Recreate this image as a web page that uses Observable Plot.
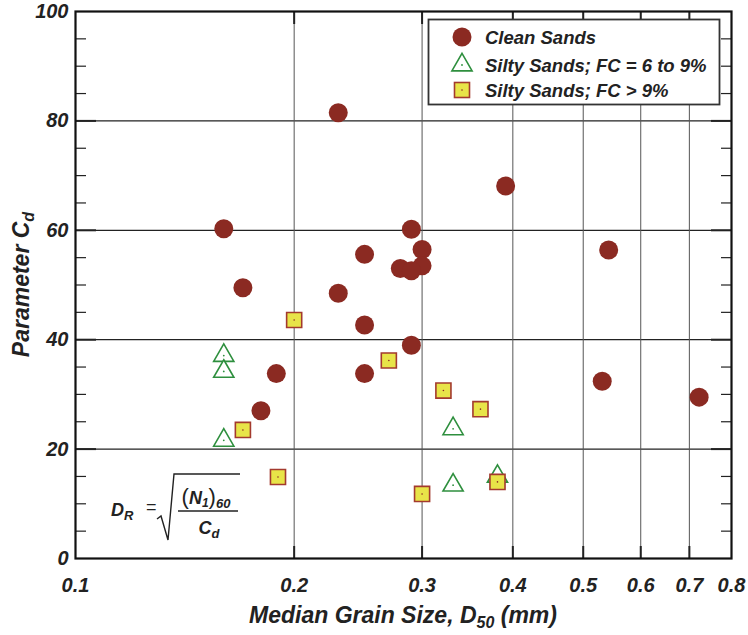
<!DOCTYPE html>
<html>
<head>
<meta charset="utf-8">
<script src="https://cdn.jsdelivr.net/npm/d3@7"></script>
<script src="https://cdn.jsdelivr.net/npm/@observablehq/plot@0.6"></script>
<style>
  html, body { margin: 0; padding: 0; background: #fff; }
  #chart { position: relative; width: 748px; height: 635px; }
</style>
</head>
<body>
<div id="chart"></div>
<script>
// ---- data ----
const seriesNames = ["Clean Sands", "Silty Sands; FC = 6 to 9%", "Silty Sands; FC > 9%"];

const cleanD50 = [0.23, 0.160, 0.170, 0.23, 0.25, 0.25, 0.25, 0.189, 0.180, 0.391, 0.290, 0.300, 0.300, 0.280, 0.290, 0.542, 0.290, 0.531, 0.722];
const cleanCd  = [81.5, 60.3, 49.5, 48.5, 55.6, 42.7, 33.8, 33.8, 27.0, 68.1, 60.2, 56.5, 53.5, 53.0, 52.6, 56.4, 39.0, 32.4, 29.5];

const silty69D50 = [0.160, 0.160, 0.160, 0.331, 0.331, 0.381];
const silty69Cd  = [37.1, 34.2, 21.6, 23.7, 13.4, 15.0];

const silty9D50 = [0.200, 0.170, 0.190, 0.270, 0.321, 0.361, 0.300, 0.381];
const silty9Cd  = [43.6, 23.5, 14.9, 36.2, 30.7, 27.3, 11.8, 14.0];

const xTicks = [0.1, 0.2, 0.3, 0.4, 0.5, 0.6, 0.7, 0.8];
const xGrid  = [0.2, 0.3, 0.4, 0.5, 0.6, 0.7];
const yTicks = [0, 20, 40, 60, 80, 100];
const yGrid  = [20, 40, 60, 80];
const yMinor = [5, 10, 15, 25, 30, 35, 45, 50, 55, 65, 70, 75, 85, 90, 95];

const toRows = (xs, ys) => xs.map((d, i) => ({d50: d, cd: ys[i]}));
const clean = toRows(cleanD50, cleanCd);
const silty69 = toRows(silty69D50, silty69Cd);
const silty9 = toRows(silty9D50, silty9Cd);

const cRed = "#8B2A22", cGreen = "#2E8F3E", cYellow = "#E8E448", cSqStroke = "#A33A2E";
const FONT = "'Liberation Sans', Arial, Helvetica, sans-serif";
const lblStyle = {fontSize: 20, fontWeight: "bold", fontStyle: "italic", fill: "#222"};

const plot = Plot.plot({
  width: 748, height: 635,
  marginLeft: 75, marginRight: 17, marginTop: 11, marginBottom: 77,
  style: {fontFamily: FONT, background: "#fff", color: "#222"},
  x: {type: "log", domain: [0.1, 0.8]},
  y: {domain: [0, 100]},
  marks: [
    Plot.ruleY(yGrid, {stroke: "#222", strokeWidth: 1.3}),
    Plot.ruleX(xGrid, {stroke: "#555", strokeWidth: 1}),
    // minor y ticks (inward), left and right
    Plot.axisY(yMinor, {anchor: "left", tickSize: -11, tickFormat: () => "", label: null, stroke: "#222", strokeWidth: 1.2}),
    Plot.axisY(yMinor, {anchor: "right", tickSize: -11, tickFormat: () => "", label: null, stroke: "#222", strokeWidth: 1.2}),
    // major y ticks (thicker, inward)
    Plot.axisY(yGrid, {anchor: "left", tickSize: -21, tickFormat: () => "", label: null, stroke: "#222", strokeWidth: 2}),
    Plot.axisY(yGrid, {anchor: "right", tickSize: -21, tickFormat: () => "", label: null, stroke: "#222", strokeWidth: 2}),
    // major x ticks (thicker, inward), top and bottom
    Plot.axisX(xGrid, {anchor: "bottom", tickSize: -12, tickFormat: () => "", label: null, stroke: "#222", strokeWidth: 2}),
    Plot.axisX(xGrid, {anchor: "top", tickSize: -12, tickFormat: () => "", label: null, stroke: "#222", strokeWidth: 2}),
    // tick labels
    Plot.axisY(yTicks, {anchor: "left", tickSize: 0, tickPadding: 7, label: null, tickFormat: d => String(d), ...lblStyle}),
    Plot.axisX(xTicks, {anchor: "bottom", tickSize: 0, tickPadding: 19, label: null, tickFormat: d => String(d), ...lblStyle}),
    Plot.frame({stroke: "#111", strokeWidth: 2.2}),
    // data
    Plot.dot(clean, {x: "d50", y: "cd", r: 9.5, fill: cRed}),
    Plot.dot(silty69, {x: "d50", y: "cd", symbol: "triangle", r: 7.5, fill: "white", stroke: cGreen, strokeWidth: 1.6}),
    Plot.dot(silty69, {x: "d50", y: "cd", r: 0.9, fill: cGreen}),
    Plot.dot(silty9, {x: "d50", y: "cd", symbol: "square", r: 8.5, fill: cYellow, stroke: cSqStroke, strokeWidth: 1.6}),
    Plot.dot(silty9, {x: "d50", y: "cd", r: 0.8, fill: cRed})
  ]
});

document.getElementById("chart").appendChild(plot);
const svg = d3.select(plot);

const styleText = (sel, size, bold, italic) => sel
  .style("font-family", FONT).style("font-size", size + "px")
  .style("font-weight", bold ? "bold" : "normal").style("font-style", italic ? "italic" : "normal");

// ---- axis titles ----
const xt = styleText(svg.append("text"), 23, true, true)
  .attr("x", (75 + 731) / 2).attr("y", 623)
  .attr("text-anchor", "middle").attr("fill", "#222");
xt.append("tspan").text("Median Grain Size, D");
xt.append("tspan").attr("dy", 5).style("font-size", "16px").text("50");
xt.append("tspan").attr("dy", -5).text(" (mm)");

const yt = styleText(svg.append("text"), 23, true, true)
  .attr("transform", "translate(29," + ((11 + 558) / 2) + ") rotate(-90)")
  .attr("text-anchor", "middle").attr("fill", "#222");
yt.append("tspan").text("Parameter C");
yt.append("tspan").attr("dy", 5).style("font-size", "16px").text("d");

// ---- legend ----
const lg = svg.append("g").attr("text-anchor", "start");
lg.append("rect").attr("x", 428.5).attr("y", 19.5).attr("width", 291).attr("height", 85)
  .attr("fill", "white").attr("stroke", "#333").attr("stroke-width", 1.8);
const legY = [37, 65, 90];
lg.append("circle").attr("cx", 462).attr("cy", legY[0]).attr("r", 9.5).attr("fill", cRed);
lg.append("path").attr("transform", `translate(462,${legY[1]})`)
  .attr("d", d3.symbol(d3.symbolTriangle, Math.PI * 7.5 * 7.5)())
  .attr("fill", "white").attr("stroke", cGreen).attr("stroke-width", 1.6);
lg.append("circle").attr("cx", 462).attr("cy", legY[1]).attr("r", 0.9).attr("fill", cGreen);
lg.append("rect").attr("x", 462 - 7.5).attr("y", legY[2] - 7.5).attr("width", 15).attr("height", 15)
  .attr("fill", cYellow).attr("stroke", cSqStroke).attr("stroke-width", 1.6);
lg.append("circle").attr("cx", 462).attr("cy", legY[2]).attr("r", 0.8).attr("fill", cRed);
seriesNames.forEach((name, i) => {
  styleText(lg.append("text"), 18.5, true, true)
    .attr("x", 485).attr("y", legY[i] + 6.5).attr("text-anchor", "start").attr("fill", "#222").text(name);
});

// ---- formula annotation ----
const fg = svg.append("g").attr("fill", "#222").attr("text-anchor", "start");
const dr = styleText(fg.append("text"), 18, true, true).attr("x", 111).attr("y", 516).attr("text-anchor", "start");
dr.append("tspan").text("D");
dr.append("tspan").attr("dy", 4).style("font-size", "13px").text("R");
styleText(fg.append("text"), 18, false, false).attr("x", 146).attr("y", 513).attr("text-anchor", "start").text("=");
fg.append("path").attr("d", "M157,519 L161,516 L168,540 L174,474 L240,474")
  .attr("fill", "none").attr("stroke", "#222").attr("stroke-width", 1.4);
const num = styleText(fg.append("text"), 18, false, false).attr("x", 206).attr("y", 504).attr("text-anchor", "middle");
num.append("tspan").style("font-size", "22px").text("(");
num.append("tspan").style("font-weight", "bold").style("font-style", "italic").text("N");
num.append("tspan").attr("dy", 3).style("font-size", "12px").style("font-weight", "bold").style("font-style", "italic").text("1");
num.append("tspan").attr("dy", -3).style("font-size", "22px").text(")");
num.append("tspan").attr("dy", 4).style("font-size", "13px").style("font-weight", "bold").style("font-style", "italic").text("60");
fg.append("line").attr("x1", 178).attr("x2", 238).attr("y1", 511).attr("y2", 511)
  .attr("stroke", "#222").attr("stroke-width", 1.3);
const den = styleText(fg.append("text"), 18, true, true).attr("x", 209).attr("y", 534).attr("text-anchor", "middle");
den.append("tspan").text("C");
den.append("tspan").attr("dy", 4).style("font-size", "13px").text("d");
</script>
</body>
</html>
